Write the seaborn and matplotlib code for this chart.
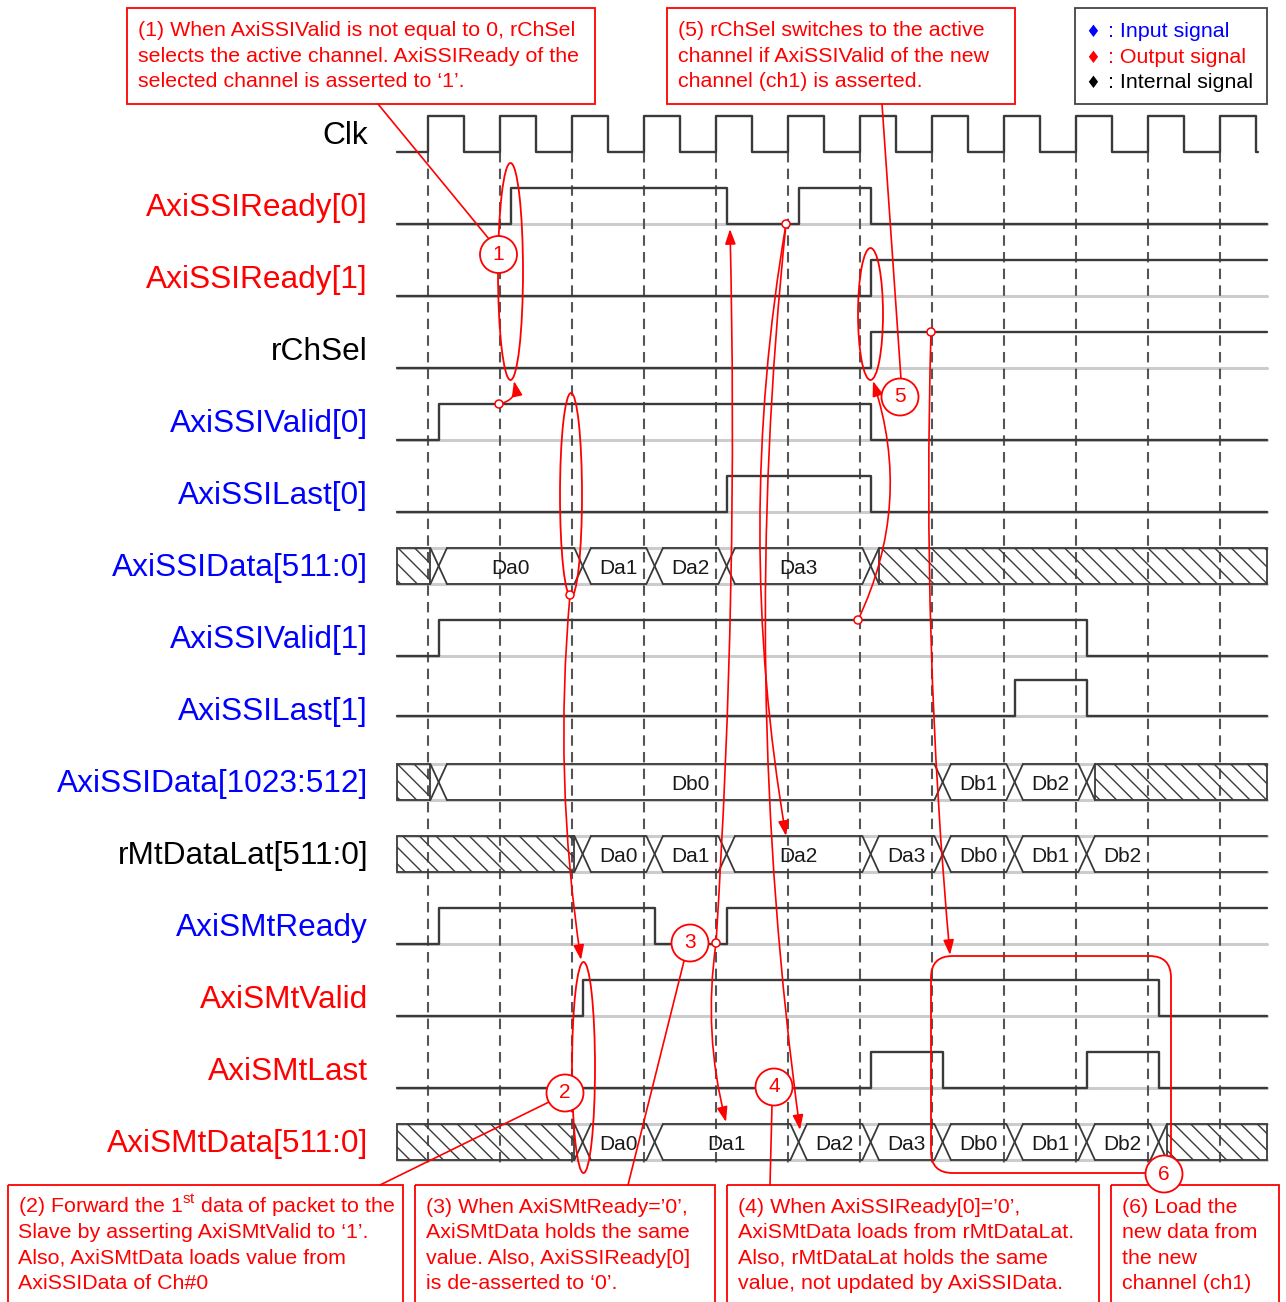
import matplotlib
matplotlib.use("Agg")
import matplotlib.pyplot as plt
from matplotlib.patches import Rectangle, Circle, Ellipse, FancyBboxPatch, FancyArrowPatch
import pandas as pd
import seaborn as sns

sns.set_theme(style="white")
plt.rcParams["font.family"] = ["Liberation Sans", "DejaVu Sans"]
plt.rcParams["mathtext.fontset"] = "custom"
plt.rcParams["mathtext.rm"] = "Liberation Sans"
plt.rcParams["hatch.linewidth"] = 1.0

# signal rows, top to bottom
signal_names = ["Clk", "AxiSSIReady[0]", "AxiSSIReady[1]", "rChSel",
                "AxiSSIValid[0]", "AxiSSILast[0]", "AxiSSIData[511:0]",
                "AxiSSIValid[1]", "AxiSSILast[1]", "AxiSSIData[1023:512]",
                "rMtDataLat[511:0]", "AxiSMtReady", "AxiSMtValid",
                "AxiSMtLast", "AxiSMtData[511:0]"]
signal_types = ["internal", "output", "output", "internal",
                "input", "input", "input", "input", "input", "input",
                "internal", "input", "output", "output", "output"]

clock_edges = list(range(12))   # rising edges of Clk

# 1-bit signals: clock edges where the value toggles (all start at '0')
ssi_ready0 = [1, 4, 5, 6]
ssi_ready1 = [6]
ch_sel = [6]
ssi_valid0 = [0, 6]
ssi_last0 = [4, 6]
ssi_valid1 = [0, 9]
ssi_last1 = [8, 9]
mt_ready = [0, 3, 4]
mt_valid = [2, 10]
mt_last = [6, 7, 9, 10]

# buses: clock edges where the value changes, value in each interval (None = unknown)
ssi_data0_edges = [0, 2, 3, 4, 6]
ssi_data0_vals = [None, "Da0", "Da1", "Da2", "Da3", None]
ssi_data1_edges = [0, 7, 8, 9]
ssi_data1_vals = [None, "Db0", "Db1", "Db2", None]
mt_lat_edges = [2, 3, 4, 6, 7, 8, 9]
mt_lat_vals = [None, "Da0", "Da1", "Da2", "Da3", "Db0", "Db1", "Db2"]
mt_data_edges = [2, 3, 5, 6, 7, 8, 9, 10]
mt_data_vals = [None, "Da0", "Da1", "Da2", "Da3", "Db0", "Db1", "Db2", None]

bits = {1: ssi_ready0, 2: ssi_ready1, 3: ch_sel, 4: ssi_valid0, 5: ssi_last0,
        7: ssi_valid1, 8: ssi_last1, 11: mt_ready, 12: mt_valid, 13: mt_last}
buses = {6: (ssi_data0_edges, ssi_data0_vals), 9: (ssi_data1_edges, ssi_data1_vals),
         10: (mt_lat_edges, mt_lat_vals), 14: (mt_data_edges, mt_data_vals)}

RED = "#ff0000"
WAVE = "#3a3a3a"
type_color = {"input": "#0000ff", "output": "#ff0000", "internal": "#000000"}


def P(x, y):
    # picture pixel -> (clock cycles, rows)
    return ((x - 427.5) / 72.0, (y - 134.0) / 72.0)


T_START = P(397, 0)[0]
T_END = P(1267, 0)[0]
CLK_END = P(1258, 0)[0]
DELAY = 0.155
XW = 0.115
row_shift = {8: -12 / 72.0}

fig = plt.figure(figsize=(12.86, 13.02), dpi=100)
ax = fig.add_axes([0, 0, 1, 1])

# ---- waveform points ----
rows = []
base = []
clk = [(T_START, 0)]
for e in clock_edges:
    clk += [(e, 0), (e, 1), (e + 0.5, 1), (e + 0.5, 0)]
clk.append((CLK_END, 0))
for t, v in clk:
    rows.append({"sig": 0, "t": t, "y": 0.25 - 0.5 * v})

for r, tog in bits.items():
    sh = row_shift.get(r, 0)
    lvl = 0
    pts = [(T_START, 0)]
    for e in tog:
        pts.append((e + DELAY, lvl))
        lvl = 1 - lvl
        pts.append((e + DELAY, lvl))
    pts.append((T_END, lvl))
    for t, v in pts:
        rows.append({"sig": r, "t": t, "y": r + sh + 0.25 - 0.5 * v})
    base += [{"sig": r, "t": T_START, "y": r + sh + 0.25},
             {"sig": r, "t": T_END, "y": r + sh + 0.25}]

seg_id = 100
bus_lines = []
for r, (edges, vals) in buses.items():
    top, bot = r - 0.25, r + 0.25
    for yy in (top, bot):
        base += [{"sig": seg_id, "t": T_START, "y": yy}, {"sig": seg_id, "t": T_END, "y": yy}]
        seg_id += 1
    bounds = [T_START] + [e + DELAY for e in edges] + [T_END]
    for i, val in enumerate(vals):
        a = bounds[i] + (XW if i > 0 else 0)
        b = bounds[i + 1] - (XW if i < len(vals) - 1 else 0)
        if val is None:
            ax.add_patch(Rectangle((a, top), b - a, 0.5, fill=False, hatch="\\\\",
                                   edgecolor=WAVE, lw=1.3, zorder=3))
        else:
            for yy in (top, bot):
                bus_lines += [{"sig": seg_id, "t": a, "y": yy}, {"sig": seg_id, "t": b, "y": yy}]
                seg_id += 1
            right = bounds[i + 1] if i < len(vals) - 1 else bounds[i] + 1
            ax.text((bounds[i] + right) / 2, r, val, ha="center", va="center_baseline",
                    fontsize=15, color="#1a1a1a", zorder=4)
    for x in bounds[1:-1]:
        bus_lines += [{"sig": seg_id, "t": x - XW, "y": top}, {"sig": seg_id, "t": x + XW, "y": bot}]
        seg_id += 1
        bus_lines += [{"sig": seg_id, "t": x - XW, "y": bot}, {"sig": seg_id, "t": x + XW, "y": top}]
        seg_id += 1

wave_df = pd.DataFrame(rows)
base_df = pd.DataFrame(base)
bus_df = pd.DataFrame(bus_lines)

sns.lineplot(data=base_df, x="t", y="y", units="sig", estimator=None, sort=False,
             color="#cccccc", linewidth=2.2, zorder=1, ax=ax)
ax.vlines(clock_edges, P(0, 152)[1], P(0, 1166)[1], colors="#555555",
          linestyles=(0, (5, 3)), linewidth=1.5, zorder=2)
sns.lineplot(data=wave_df, x="t", y="y", units="sig", estimator=None, sort=False,
             color=WAVE, linewidth=1.7, zorder=3, ax=ax)
sns.lineplot(data=bus_df, x="t", y="y", units="sig", estimator=None, sort=False,
             color=WAVE, linewidth=1.3, zorder=3, ax=ax)

# signal names
for r, (name, kind) in enumerate(zip(signal_names, signal_types)):
    ax.text(*P(368, 134 + 72 * r + 10), name, ha="right", va="baseline",
            fontsize=22.8, color=type_color[kind], zorder=4)


# ---- annotations ----
NOTE_FS = 15.4


def box(x0, y0, x1, y1, color=RED):
    ax.add_patch(Rectangle(P(x0, y0), (x1 - x0) / 72, (y1 - y0) / 72, fill=False,
                           edgecolor=color, lw=1.3, zorder=5))


def lines(x, y0, texts, step=25.7, color=RED):
    for k, s in enumerate(texts):
        ax.text(*P(x, y0 + k * step), s, ha="left", va="baseline", fontsize=NOTE_FS,
                color=color, zorder=6)


box(127, 8, 595, 104)
lines(138, 36, ["(1) When AxiSSIValid is not equal to 0, rChSel",
                "selects the active channel. AxiSSIReady of the",
                "selected channel is asserted to \u20181\u2019."])
box(667, 8, 1015, 104)
lines(678, 36, ["(5) rChSel switches to the active",
                "channel if AxiSSIValid of the new",
                "channel (ch1) is asserted."])
box(1075, 8, 1267, 104, color="#444444")
for k, kind in enumerate(["input", "output", "internal"]):
    yy = 37 + k * 25.7
    ax.text(*P(1093, yy), "\u2666", ha="center", va="baseline", fontsize=12,
            color=type_color[kind], family=["DejaVu Sans"], zorder=6)
    ax.text(*P(1108, yy), ": %s signal" % kind.capitalize(), ha="left", va="baseline",
            fontsize=NOTE_FS, color=type_color[kind], zorder=6)

box(8, 1185, 403, 1320)
lines(18, 1213, ["(2) Forward the 1$^{\\rm st}$ data of packet to the",
                 "Slave by asserting AxiSMtValid to \u20181\u2019.",
                 "Also, AxiSMtData loads value from",
                 "AxiSSIData of Ch#0"], step=25.3)
box(415, 1185, 715, 1320)
lines(426, 1213, ["(3) When AxiSMtReady=\u20190\u2019,",
                  "AxiSMtData holds the same",
                  "value. Also, AxiSSIReady[0]",
                  "is de-asserted to \u20180\u2019."], step=25.3)
box(727, 1185, 1099, 1320)
lines(738, 1213, ["(4) When AxiSSIReady[0]=\u20190\u2019,",
                  "AxiSMtData loads from rMtDataLat.",
                  "Also, rMtDataLat holds the same",
                  "value, not updated by AxiSSIData."], step=25.3)
box(1111, 1185, 1279, 1320)
lines(1122, 1213, ["(6) Load the", "new data from", "the new", "channel (ch1)"], step=25.3)

# ellipses around edges
for cx, cy, w, h in [(510.5, 271.5, 25, 217), (571, 495, 22, 204),
                     (870.5, 314, 25, 132), (583.5, 1067.5, 23, 211)]:
    ax.add_patch(Ellipse(P(cx, cy), w / 72, h / 72, fill=False, edgecolor=RED,
                         lw=1.3, zorder=5))
ax.add_patch(FancyBboxPatch(P(931, 956), 240 / 72, 217 / 72,
                            boxstyle="round,pad=0,rounding_size=0.3", fill=False,
                            edgecolor=RED, lw=1.3, zorder=5))

# straight leader lines
for (x0, y0), (x1, y1) in [((378, 104), (489, 239)), ((882, 104), (901, 379)),
                           ((684, 961), (628, 1185)), ((549, 1102), (380, 1185)),
                           ((772, 1105), (770, 1185))]:
    (a0, b0), (a1, b1) = P(x0, y0), P(x1, y1)
    ax.plot([a0, a1], [b0, b1], color=RED, lw=1.2, zorder=5)

# curved arrows
for start, end, rad in [((499, 404), (514, 381), 0.5), ((858, 620), (873, 381), 0.2),
                        ((570, 595), (581, 960), 0.06), ((716, 943), (730, 229), 0.022),
                        ((716, 943), (726, 1122), 0.1), ((786, 224), (786, 836), 0.085),
                        ((786, 224), (800, 1130), 0.06), ((931, 332), (950, 955), 0.03)]:
    ax.add_patch(FancyArrowPatch(P(*start), P(*end), connectionstyle="arc3,rad=%s" % rad,
                                 arrowstyle="-|>,head_length=0.45,head_width=0.16",
                                 mutation_scale=20, color=RED, lw=1.2,
                                 shrinkA=0, shrinkB=0, zorder=5))

# small marker circles
for x, y in [(499, 404), (786, 224), (858, 620), (931, 332), (570, 595), (716, 943)]:
    ax.add_patch(Circle(P(x, y), 4 / 72, facecolor="white", edgecolor=RED, lw=1.1, zorder=6))

# numbered circles
for num, (x, y) in enumerate([(498.5, 254.5), (565, 1093), (690, 943),
                              (774, 1087), (900, 397), (1164, 1174)], start=1):
    ax.add_patch(Circle(P(x, y), 18.5 / 72, facecolor="white", edgecolor=RED, lw=1.3, zorder=7))
    ax.text(*P(x, y), str(num), ha="center", va="center", fontsize=15, color=RED, zorder=8)

ax.set_xlim(P(0, 0)[0], P(1286, 0)[0])
ax.set_ylim(P(0, 1302)[1], P(0, 0)[1])
ax.axis("off")
fig.savefig("out.png", dpi=100, facecolor="white")
